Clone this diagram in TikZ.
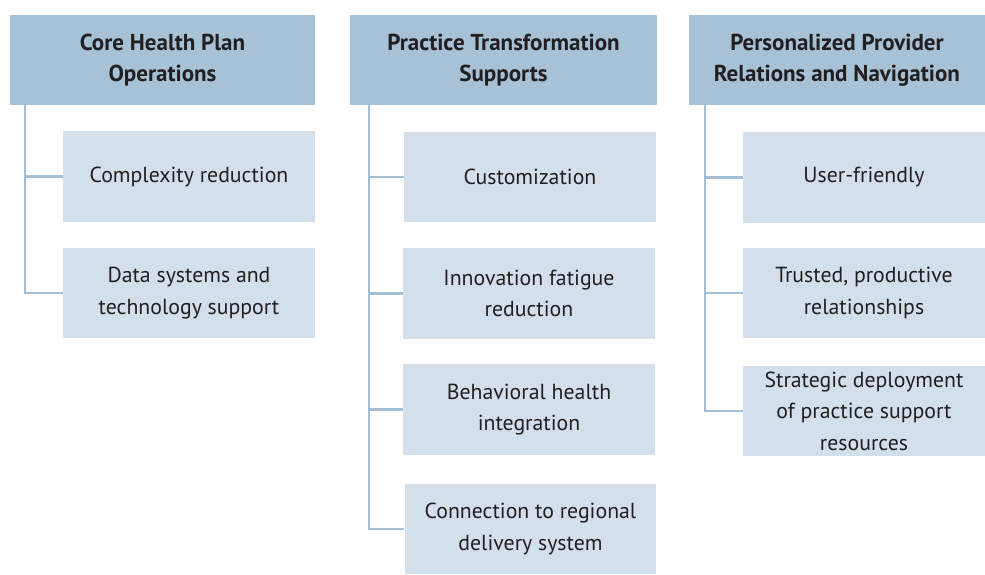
\documentclass[tikz,border=0pt]{standalone}
\usepackage{fontspec}
\setmainfont{PT Sans}
\definecolor{hdrblue}{HTML}{A7C1D6}
\definecolor{boxblue}{HTML}{D3DFEA}
\definecolor{linkblue}{HTML}{A3BFD6}
\definecolor{txtgray}{HTML}{231F20}
\tikzset{
  header/.style={fill=hdrblue, minimum width=6.1cm, minimum height=1.8cm, align=center,
    inner sep=0pt, text=txtgray, font=\fontsize{13.1}{17.8}\selectfont\bfseries},
  item/.style={fill=boxblue, minimum width=5.04cm, minimum height=1.82cm, align=center,
    inner sep=0pt, text=txtgray, font=\fontsize{12.4}{18}\selectfont},
  link/.style={draw=linkblue, line width=1.2pt},
}
\begin{document}
\begin{tikzpicture}[x=0.02cm, y=-0.02cm]
    \useasboundingbox (0,0) rectangle (985,575);

    % core operations
    \begin{scope}
    \node[header] (core) at (162.5,60) {Core Health Plan\\Operations};
    \node[item] (core1) at (189,176.5) {Complexity reduction};
    \node[item] (core2) at (189,293) {Data systems and\\technology support};
    \coordinate (coreT) at (25,104);
    \draw[link] (coreT) |- (core1.west);
    \draw[link] (coreT) |- (core2.west);
    \end{scope}

    % practice transformation
    \begin{scope}
    \node[header, minimum width=6.14cm] (prac) at (503.5,60) {Practice Transformation\\Supports};
    \node[item] (prac1) at (530,177) {Customization};
    \node[item] (prac2) at (529,293.5) {Innovation fatigue\\reduction};
    \node[item] (prac3) at (529,409.5) {Behavioral health\\integration};
    \node[item] (prac4) at (530.5,529) {Connection to regional\\delivery system};
    \coordinate (pracT) at (369,104);
    \foreach \i in {1,...,4}
        \draw[link] (pracT) |- (prac\i.west);
    \end{scope}

    % provider relations
    \begin{scope}
    \node[header, minimum width=5.92cm] (prov) at (837,60) {Personalized Provider\\Relations and Navigation};
    \node[item, minimum width=4.84cm] (prov1) at (864,177.5) {User-friendly};
    \node[item, minimum width=4.84cm] (prov2) at (864,293) {Trusted, productive\\relationships};
    \node[item, minimum width=4.84cm] (prov3) at (864,411) {Strategic deployment\\of practice support\\resources};
    \coordinate (provT) at (705,104);
    \foreach \i in {1,2,3}
        \draw[link] (provT) |- (prov\i.west);
    \end{scope}
\end{tikzpicture}
\end{document}
